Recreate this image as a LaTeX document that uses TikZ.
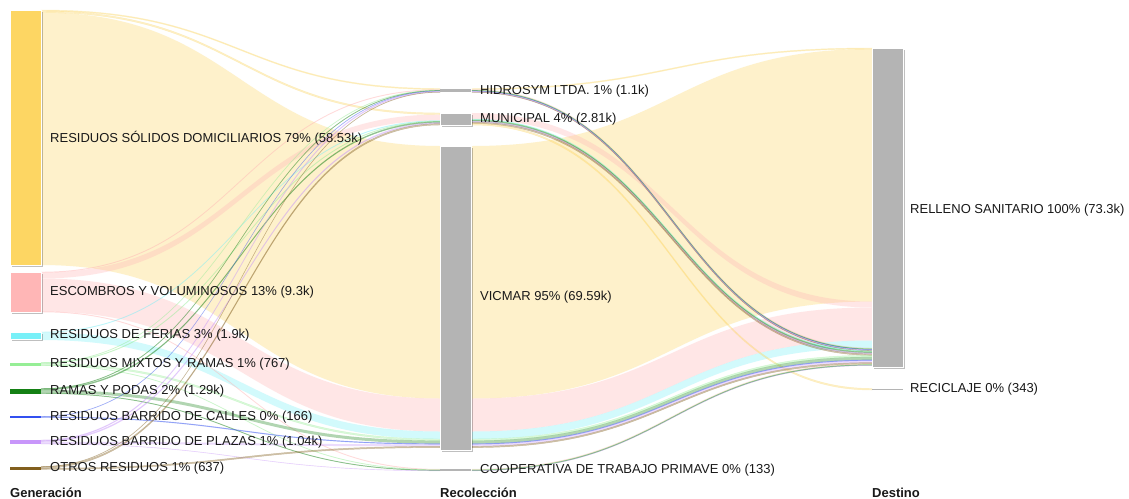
\documentclass[tikz,border=0pt]{standalone}
\usepackage{fontspec}
\setmainfont{Liberation Sans}
\usetikzlibrary{shadows}
\definecolor{rsd}{RGB}{253,214,99}
\definecolor{esc}{RGB}{255,182,182}
\definecolor{fer}{RGB}{120,240,248}
\definecolor{mix}{RGB}{150,238,150}
\definecolor{ram}{RGB}{20,128,20}
\definecolor{cal}{RGB}{50,80,240}
\definecolor{pla}{RGB}{200,150,250}
\definecolor{otr}{RGB}{130,95,30}
\definecolor{gbar}{RGB}{180,180,180}
\definecolor{txt}{RGB}{25,25,25}
% #1 style, #2 x1, #3 y1, #4 x2, #5 y2, #6 width
\newcommand{\sankeyband}[6]{%
  \path[#1] (#2,#3) .. controls ({(#2+#4)/2},#3) and ({(#2+#4)/2},#5) .. (#4,#5)
    -- (#4,{#5+#6}) .. controls ({(#2+#4)/2},{#5+#6}) and ({(#2+#4)/2},{#3+#6}) .. (#2,{#3+#6}) -- cycle;}
\begin{document}
\begin{tikzpicture}[x=1pt,y=-1pt,
  lnk/.style={fill=#1, fill opacity=0.33},
  tny/.style={fill=#1, fill opacity=0.33, draw=#1, draw opacity=0.32, line width=0.45pt},
  bar/.style={fill=#1, inner sep=0pt, outer sep=0pt, anchor=north west, minimum width=31pt},
  bigbar/.style={bar=#1, draw=white, line width=0.8pt,
    drop shadow={shadow xshift=1.5pt, shadow yshift=-1.5pt, opacity=0.25, fill=black}},
  lbl/.style={anchor=west, inner sep=0pt, font=\fontsize{13}{15}\selectfont, text=txt},
  hdr/.style={anchor=west, inner sep=0pt, font=\fontsize{13}{15}\selectfont\bfseries, text=txt}]
\useasboundingbox (0,0) rectangle (1129,498);
\fill[white] (0,0) rectangle (1129,498);

% ---------- Generacion -> Recoleccion ----------
\sankeyband{lnk=rsd}{41}{12.5}{440}{146}{252.5}
\sankeyband{lnk=esc}{41}{278.5}{440}{398.5}{33}
\sankeyband{lnk=fer}{41}{332.5}{440}{431.5}{7.5}
\sankeyband{lnk=esc}{41}{272.5}{440}{114.5}{6}
\sankeyband{tny=rsd}{41}{10}{440}{88.5}{1}
\sankeyband{tny=rsd}{41}{11}{440}{113}{1.5}
\sankeyband{tny=esc}{41}{272}{440}{89.5}{0.5}
\sankeyband{tny=esc}{41}{311.5}{440}{469.2}{0.5}
\sankeyband{tny=fer}{41}{332}{440}{120.5}{0.5}
\sankeyband{tny=mix}{41}{362.5}{440}{90}{0.4}
\sankeyband{tny=mix}{41}{362.9}{440}{121}{0.6}
\sankeyband{tny=mix}{41}{363.5}{440}{439}{1.6}
\sankeyband{tny=mix}{41}{365.1}{440}{469.7}{0.4}
\sankeyband{tny=ram}{41}{388.5}{440}{90.4}{0.5}
\sankeyband{tny=ram}{41}{389}{440}{121.6}{1}
\sankeyband{lnk=ram}{41}{390}{440}{440.6}{3}
\sankeyband{tny=ram}{41}{393}{440}{470.1}{0.5}
\sankeyband{tny=cal}{41}{416.5}{440}{90.9}{0.3}
\sankeyband{tny=cal}{41}{416.8}{440}{443.6}{0.7}
\sankeyband{tny=pla}{41}{440}{440}{91.2}{0.8}
\sankeyband{tny=pla}{41}{440.8}{440}{122.6}{1}
\sankeyband{lnk=pla}{41}{441.8}{440}{444.3}{2}
\sankeyband{tny=pla}{41}{443.8}{440}{470.6}{0.2}
\sankeyband{tny=otr}{41}{466.5}{440}{92}{0.3}
\sankeyband{tny=otr}{41}{466.8}{440}{123.6}{1.4}
\sankeyband{tny=otr}{41}{468.2}{440}{446.3}{1.3}

% ---------- Recoleccion -> Destino ----------
\sankeyband{lnk=rsd}{472}{146}{872}{49}{252.5}
\sankeyband{lnk=esc}{472}{398.5}{872}{307.5}{33}
\sankeyband{lnk=fer}{472}{431.5}{872}{340.5}{7.5}
\sankeyband{lnk=esc}{472}{113}{872}{301.5}{6}
\sankeyband{tny=rsd}{472}{88.5}{872}{48}{1}
\sankeyband{tny=esc}{472}{89.5}{872}{348}{0.5}
\sankeyband{tny=mix}{472}{90}{872}{348.5}{0.4}
\sankeyband{tny=ram}{472}{90.4}{872}{348.9}{0.5}
\sankeyband{tny=cal}{472}{90.9}{872}{349.4}{0.3}
\sankeyband{tny=pla}{472}{91.2}{872}{349.7}{0.8}
\sankeyband{tny=otr}{472}{92}{872}{350.5}{0.3}
\sankeyband{tny=fer}{472}{119}{872}{350.8}{0.5}
\sankeyband{tny=mix}{472}{119.5}{872}{351.3}{0.6}
\sankeyband{tny=ram}{472}{120.1}{872}{351.9}{1}
\sankeyband{tny=pla}{472}{121.1}{872}{352.9}{1}
\sankeyband{tny=otr}{472}{122.1}{872}{353.9}{1.4}
\sankeyband{tny=rsd}{472}{123.5}{872}{388.5}{1.5}
\sankeyband{tny=mix}{472}{439}{872}{355.3}{1.6}
\sankeyband{lnk=ram}{472}{440.6}{872}{356.9}{3}
\sankeyband{tny=cal}{472}{443.6}{872}{359.9}{0.7}
\sankeyband{lnk=pla}{472}{444.3}{872}{360.6}{2}
\sankeyband{tny=otr}{472}{446.3}{872}{362.6}{1.3}
\sankeyband{tny=esc}{472}{469.2}{872}{363.9}{0.5}
\sankeyband{tny=mix}{472}{469.7}{872}{364.4}{0.4}
\sankeyband{tny=ram}{472}{470.1}{872}{364.8}{0.5}
\sankeyband{tny=pla}{472}{470.6}{872}{365.3}{0.2}

% ---------- Nodes ----------
\node[bigbar=rsd, minimum height=255pt] (nrsd) at (10,10) {};
\node[bigbar=esc, minimum height=40pt] (nesc) at (10,272) {};
\node[bigbar=fer, minimum height=7pt] (nfer) at (10,332.5) {};
\node[bar=mix, minimum height=3pt] (nmix) at (10,362.5) {};
\node[bar=ram, minimum height=5pt] (nram) at (10,388.5) {};
\node[bar=cal, minimum height=1.2pt] (ncal) at (10,416.4) {};
\node[bar=pla, minimum height=4pt] (npla) at (10,440) {};
\node[bar=otr, minimum height=3pt] (notr) at (10,466.5) {};

\node[bar=gbar, minimum height=3.8pt] (nhid) at (440,88.5) {};
\node[bigbar=gbar, minimum height=12pt] (nmun) at (440,113) {};
\node[bigbar=gbar, minimum height=304pt] (nvic) at (440,146) {};
\node[bar=gbar, minimum height=1.6pt] (ncoo) at (440,469.2) {};

\node[bigbar=gbar, minimum height=319pt] (nrel) at (872,48) {};
\node[bar=gbar, minimum height=1.6pt] (nrec) at (872,388.5) {};

% ---------- Labels ----------
\node[lbl] (lrsd) at (50,138) {RESIDUOS SÓLIDOS DOMICILIARIOS 79\% (58.53k)};
\node[lbl] (lesc) at (50,292.5) {ESCOMBROS Y VOLUMINOSOS 13\% (9.3k)};
\node[lbl] (lfer) at (50,335.5) {RESIDUOS DE FERIAS 3\% (1.9k)};
\node[lbl] (lmix) at (50,364.5) {RESIDUOS MIXTOS Y RAMAS 1\% (767)};
\node[lbl] (lram) at (50,391.5) {RAMAS Y PODAS 2\% (1.29k)};
\node[lbl] (lcal) at (50,417.5) {RESIDUOS BARRIDO DE CALLES 0\% (166)};
\node[lbl] (lpla) at (50,442.5) {RESIDUOS BARRIDO DE PLAZAS 1\% (1.04k)};
\node[lbl] (lotr) at (50,468.5) {OTROS RESIDUOS 1\% (637)};

\node[lbl] (lhid) at (480,91.5) {HIDROSYM LTDA. 1\% (1.1k)};
\node[lbl] (lmun) at (480,119.5) {MUNICIPAL 4\% (2.81k)};
\node[lbl] (lvic) at (480,297.5) {VICMAR 95\% (69.59k)};
\node[lbl] (lcoo) at (480,470.5) {COOPERATIVA DE TRABAJO PRIMAVE 0\% (133)};

\node[lbl] (lrel) at (910,210.5) {RELLENO SANITARIO 100\% (73.3k)};
\node[lbl] (lrec) at (910,389.5) {RECICLAJE 0\% (343)};

\node[hdr] (hgen) at (10,492.5) {Generación};
\node[hdr] (hrec) at (440,492.5) {Recolección};
\node[hdr] (hdes) at (872,492.5) {Destino};
\end{tikzpicture}
\end{document}
